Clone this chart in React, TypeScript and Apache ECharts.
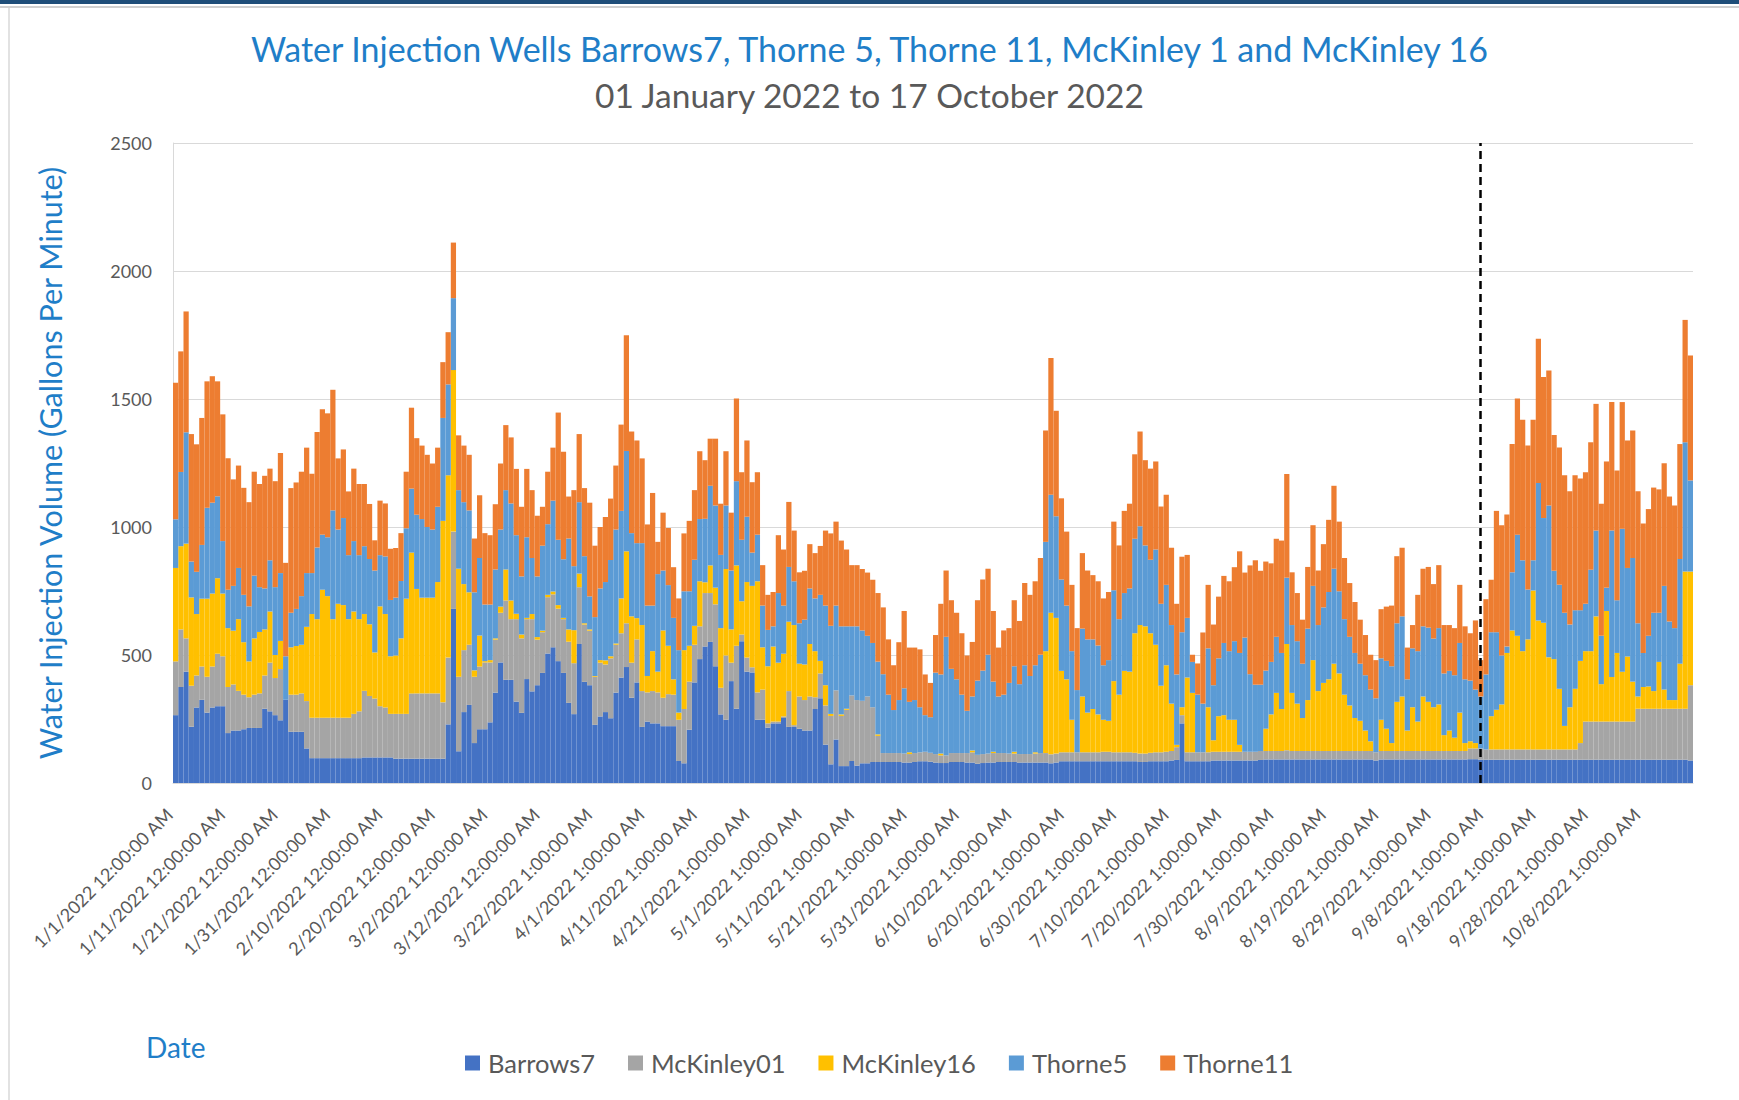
import React, { useEffect, useRef } from "react";
import * as echarts from "echarts";

// Stacked tops (cumulative level of each band), one value per day, 1 Jan 2022 .. 17 Oct 2022
const barrows7Top = [
  265,375,435,220,295,325,275,295,300,300,
  195,205,205,210,215,215,215,290,280,265,
  245,325,200,200,200,135,97,97,97,97,
  97,97,97,97,97,97,100,100,100,100,
  100,100,95,95,95,95,95,95,95,95,
  95,95,229,680,124,277,305,156,210,210,
  237,353,471,403,403,318,274,406,358,382,
  430,506,530,476,430,313,269,543,395,382,
  227,260,277,253,353,412,453,333,393,219,
  240,233,233,222,222,222,86,77,208,393,
  484,533,551,456,268,247,398,290,554,435,
  432,247,247,216,233,233,254,219,219,212,
  205,205,289,331,150,73,170,66,66,86,
  68,77,77,82,82,82,82,82,82,80,
  80,82,85,85,83,80,78,78,82,82,
  82,80,80,75,78,80,80,82,82,82,
  82,80,80,80,80,80,80,77,80,85,
  85,85,85,85,85,85,85,85,85,85,
  85,85,85,85,82,82,85,85,85,85,
  88,90,233,85,85,85,85,85,88,88,
  88,88,88,88,88,88,88,90,92,92,
  92,92,92,92,92,92,92,92,92,92,
  92,92,92,92,92,92,92,92,92,88,
  92,92,92,92,92,92,92,92,92,92,
  92,92,92,92,92,92,92,93,93,91,
  91,91,91,91,91,91,91,91,91,91,
  91,91,91,91,91,91,91,91,91,91,
  91,91,91,91,91,91,91,91,91,91,
  91,91,91,91,91,91,91,91,91,88
];

const mckinley01Top = [
  475,600,565,380,420,455,415,455,505,495,
  375,385,360,345,335,345,350,420,470,410,
  445,325,345,345,350,320,255,255,255,255,
  255,255,255,255,270,280,360,340,330,300,
  295,270,270,270,270,350,350,350,350,350,
  350,315,490,982,415,519,540,415,455,471,
  471,560,665,713,640,640,565,640,640,560,
  589,726,737,681,640,552,468,765,619,595,
  415,470,463,487,540,585,624,470,561,359,
  354,359,354,333,347,345,247,289,396,540,
  612,742,742,698,372,498,470,536,580,490,
  452,354,365,233,240,240,260,359,226,338,
  324,338,335,428,303,262,362,262,286,342,
  324,321,338,296,184,117,117,117,117,115,
  113,117,120,122,118,113,108,108,117,117,
  117,117,120,110,113,115,117,117,117,115,
  115,113,113,113,115,117,117,112,115,120,
  120,120,120,120,120,120,120,122,122,120,
  120,120,120,118,115,115,118,120,120,122,
  125,140,265,120,120,120,120,120,122,122,
  122,122,122,122,122,122,122,125,125,125,
  125,125,128,125,125,125,125,125,125,125,
  125,125,125,125,125,125,125,125,125,120,
  125,125,125,125,125,125,125,125,125,125,
  125,125,125,125,125,125,125,135,135,135,
  131,131,131,131,131,131,131,131,131,131,
  131,131,131,131,131,131,131,131,156,240,
  240,240,240,240,240,240,240,240,240,290,
  290,290,290,290,290,290,290,290,290,382
];

const mckinley16Top = [
  840,925,935,725,660,720,720,740,800,740,
  605,595,640,550,475,565,590,600,670,500,
  555,325,530,535,540,610,660,640,755,730,
  640,700,695,640,670,640,660,620,510,690,
  660,495,498,565,720,900,758,724,724,724,
  785,1024,1202,1613,837,777,745,440,576,476,
  480,565,689,834,713,661,580,645,660,570,
  595,735,748,695,645,600,597,818,624,600,
  418,480,479,495,545,721,905,651,644,617,
  418,515,435,596,536,405,275,519,536,614,
  788,784,850,763,605,836,600,850,710,785,
  770,788,530,456,533,470,505,630,617,466,
  463,543,515,477,382,270,362,268,290,342,
  324,321,338,296,190,117,117,117,117,115,
  120,117,120,122,118,113,115,108,117,117,
  117,117,127,110,113,115,122,117,117,115,
  122,113,113,113,120,117,515,665,645,438,
  405,247,120,338,275,289,268,247,243,398,
  345,438,435,585,617,612,585,540,380,460,
  310,149,296,412,352,120,120,296,167,261,
  265,247,247,149,122,122,122,125,212,268,
  352,289,543,352,310,254,324,480,359,391,
  405,466,428,345,303,254,243,205,163,120,
  247,212,156,317,338,205,296,240,338,317,
  296,307,187,205,177,275,156,163,156,135,
  131,261,286,307,508,596,575,515,561,752,
  635,626,491,484,368,223,296,368,477,515,
  515,651,386,672,414,508,435,494,396,338,
  375,377,359,473,365,324,324,466,826,826
];

const thorne5Top = [
  1030,1215,1370,865,825,930,1075,1095,1120,945,
  755,770,840,735,690,810,765,760,870,765,
  820,495,665,680,730,820,820,920,970,960,
  1065,990,1035,890,945,890,925,875,830,890,
  885,715,724,789,995,1150,1048,1031,1000,990,
  1079,1426,1557,1894,1144,1097,1065,745,879,697,
  697,834,990,1144,1092,968,807,960,879,807,
  927,1011,1103,950,874,955,847,1097,886,729,
  648,760,785,871,990,1063,1297,976,937,937,
  693,693,816,830,773,645,519,749,749,872,
  1031,1032,1161,1084,891,1084,830,1179,950,1040,
  900,970,693,598,612,742,693,844,788,624,
  638,760,721,735,693,614,693,612,612,612,
  612,596,575,547,474,425,345,285,324,370,
  317,324,296,265,257,431,424,571,446,405,
  345,282,338,400,439,501,396,338,345,391,
  456,386,460,418,460,501,942,1126,1042,795,
  693,515,363,603,561,561,537,460,480,753,
  640,742,760,954,1003,928,872,912,700,774,
  617,424,589,645,473,345,310,526,382,487,
  547,515,554,508,568,425,384,384,439,473,
  571,508,802,617,554,466,603,770,617,686,
  746,837,749,640,571,508,466,421,365,331,
  487,477,456,624,651,405,526,515,612,607,
  564,605,428,438,421,547,405,400,365,338,
  424,589,589,498,533,823,970,870,756,870,
  1172,1035,1084,829,774,665,619,675,675,700,
  833,986,575,763,986,714,993,840,879,624,
  508,575,665,665,770,631,605,875,1331,1182
];

const thorne11Top = [
  1563,1686,1842,1363,1323,1426,1569,1589,1569,1440,
  1269,1186,1240,1153,1097,1216,1168,1200,1228,1179,
  1289,860,1152,1174,1216,1310,1208,1371,1460,1444,
  1536,1268,1303,1139,1228,1168,1168,1090,948,1103,
  1092,915,918,976,1216,1466,1347,1318,1282,1248,
  1310,1644,1761,2111,1358,1318,1282,955,1124,976,
  968,1089,1248,1398,1350,1227,1079,1227,1144,1044,
  1079,1216,1310,1447,1294,1119,1144,1363,1152,1095,
  927,1000,1039,1111,1240,1400,1749,1373,1338,1268,
  1010,1133,942,1056,996,843,721,975,1024,1144,
  1296,1261,1345,1345,1091,1296,1056,1502,1214,1338,
  1175,1214,851,735,746,968,912,1098,986,823,
  829,933,898,926,986,975,1021,947,912,851,
  851,836,822,794,742,686,561,460,550,672,
  529,529,522,424,391,578,700,830,714,665,
  585,498,551,714,795,837,672,529,596,605,
  714,633,781,735,788,879,1377,1660,1454,1112,
  982,774,605,898,830,812,788,721,746,1021,
  928,1063,1091,1284,1373,1261,1228,1256,1080,1126,
  919,700,884,891,501,467,588,774,619,728,
  809,788,843,905,822,850,870,829,865,858,
  954,947,1207,823,742,638,844,1007,830,933,
  1028,1161,1021,879,781,707,638,578,501,480,
  679,689,693,886,919,529,617,735,837,844,
  777,851,617,617,605,774,612,585,635,480,
  718,794,1063,1007,1049,1324,1502,1419,1318,1419,
  1735,1586,1611,1359,1311,1202,1140,1202,1189,1214,
  1331,1481,1091,1256,1488,1221,1488,1338,1377,1140,
  1014,1070,1154,1147,1249,1119,1084,1324,1809,1670
];

const seriesNames = ["Barrows7", "McKinley01", "McKinley16", "Thorne5", "Thorne11"];
const seriesColors = ["#4472C4", "#A5A5A5", "#FFC000", "#5B9BD5", "#ED7D31"];
const yTicks = [0, 500, 1000, 1500, 2000, 2500];
const markerDayIndex = 249; // dashed vertical line

// category labels: one per day, Excel style date-time text
const categories: string[] = [];
{
  const start = new Date(2022, 0, 1, 12);
  for (let i = 0; i < thorne11Top.length; i++) {
    const d = new Date(start.getTime() + i * 86400000);
    const hour = i < 71 ? "12" : "1";
    categories.push(`${d.getMonth() + 1}/${d.getDate()}/2022 ${hour}:00:00 AM`);
  }
}

const tops = [barrows7Top, mckinley01Top, mckinley16Top, thorne5Top, thorne11Top];

const FONT = "Lato, 'Open Sans', sans-serif";
const BLUE = "#1F7EC8";

export default function App() {
  const ref = useRef<HTMLDivElement>(null);
  useEffect(() => {
    if (!ref.current) return;
    const chart = echarts.init(ref.current, undefined, { renderer: "svg" });
    const series: any[] = tops.map((top, k) => {
      const below = k === 0 ? null : tops[k - 1];
      const data = top.map((v, i) => Math.max(0, v - (below ? below[i] : 0)));
      const s: any = {
        name: seriesNames[k],
        type: "bar",
        stack: "total",
        data,
        barCategoryGap: "0%",
        barGap: "0%",
        itemStyle: { color: seriesColors[k] },
        emphasis: { disabled: true },
      };
      if (k === tops.length - 1) {
        s.markLine = {
          silent: true,
          symbol: ["none", "none"],
          label: { show: false },
          lineStyle: { color: "#000000", type: [8, 5], width: 2.5 },
          data: [{ xAxis: categories[markerDayIndex] }],
        };
      }
      return s;
    });
    chart.setOption({
      animation: false,
      backgroundColor: "#ffffff",
      textStyle: { fontFamily: FONT },
      title: [
        {
          text: "Water Injection Wells Barrows7, Thorne 5, Thorne 11, McKinley 1 and McKinley 16",
          left: "center",
          top: 26,
          textStyle: { color: BLUE, fontSize: 34, fontWeight: "normal", fontFamily: FONT },
        },
        {
          text: "01 January 2022 to 17 October 2022",
          left: "center",
          top: 73,
          textStyle: { color: "#595959", fontSize: 33.5, fontWeight: "normal", fontFamily: FONT },
        },
      ],
      legend: {
        bottom: 19,
        left: 460,
        itemWidth: 15,
        itemHeight: 15,
        itemGap: 33,
        icon: "rect",
        data: seriesNames,
        textStyle: { color: "#595959", fontSize: 25.5, fontFamily: FONT, padding: [0, 0, 0, 3] },
      },
      grid: { left: 173, right: 46, top: 143, bottom: 317, containLabel: false },
      xAxis: {
        type: "category",
        data: categories,
        axisLine: { show: true, lineStyle: { color: "#D9D9D9" } },
        axisTick: { show: false },
        axisLabel: {
          interval: 9,
          rotate: 45,
          color: "#595959",
          fontSize: 18,
          fontFamily: FONT,
          margin: 22,
          padding: [0, 9, 0, 0],
        },
      },
      yAxis: {
        type: "value",
        min: yTicks[0],
        max: yTicks[yTicks.length - 1],
        interval: 500,
        name: "Water Injection Volume (Gallons Per Minute)",
        nameLocation: "middle",
        nameGap: 108,
        nameTextStyle: { color: BLUE, fontSize: 30.5, fontFamily: FONT },
        axisLine: { show: true, lineStyle: { color: "#D9D9D9" } },
        axisTick: { show: false },
        splitLine: { lineStyle: { color: "#D9D9D9", width: 1 } },
        axisLabel: {
          color: "#595959",
          fontSize: 18,
          margin: 21,
          fontFamily: FONT,
          formatter: (v: number) => String(v),
        },
      },
      graphic: [
        { type: "rect", shape: { x: 0, y: 0, width: 1739, height: 4 }, style: { fill: "#1F4E79" } },
        { type: "line", shape: { x1: 0, y1: 7, x2: 1739, y2: 7 }, style: { stroke: "#D0D0D0", lineWidth: 2 } },
        { type: "line", shape: { x1: 9, y1: 8, x2: 9, y2: 1100 }, style: { stroke: "#D9D9D9", lineWidth: 1.5 } },
        {
          type: "text",
          left: 146,
          top: 1033,
          style: { text: "Date", fill: BLUE, fontSize: 28, fontFamily: FONT },
        },
      ],
      series,
    });
    return () => chart.dispose();
  }, []);
  return (
    <div
      ref={ref}
      style={{ position: "absolute", left: 0, top: 0, width: 1739, height: 1100, background: "#fff" }}
    />
  );
}
